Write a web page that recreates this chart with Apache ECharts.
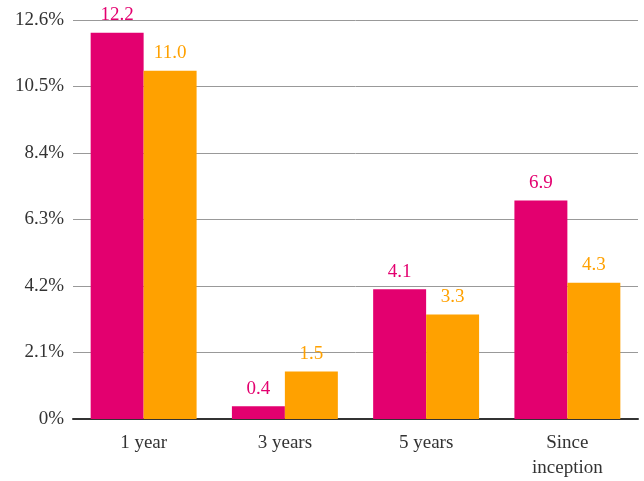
<!DOCTYPE html>
<html><head><meta charset="utf-8">
<script src="https://cdn.jsdelivr.net/npm/echarts@6/dist/echarts.min.js"></script>
<style>html,body{margin:0;padding:0;background:#fff}#c{width:644px;height:481px}</style>
</head><body><div id="c"></div>
<script>
const categories = ['1 year', '3 years', '5 years', 'Since\ninception'];
const seriesA = [12.2, 0.4, 4.1, 6.9];
const seriesB = [11.0, 1.5, 3.3, 4.3];
const yTicks = [0, 2.1, 4.2, 6.3, 8.4, 10.5, 12.6];
const colorA = '#E3006F';
const colorB = '#FFA100';
const font = 'Liberation Serif';
const chart = echarts.init(document.getElementById('c'));
chart.setOption({
  animation: false,
  grid: {left: 73, right: 6, top: 20, bottom: 61, containLabel: false},
  xAxis: {
    type: 'category', data: categories,
    axisLine: {lineStyle: {color: '#333', width: 2}},
    axisTick: {show: false},
    axisLabel: {color: '#333', fontFamily: font, fontSize: 19, margin: 12, lineHeight: 25}
  },
  yAxis: {
    type: 'value', min: 0, max: yTicks[yTicks.length - 1], interval: 2.1,
    axisLine: {show: false}, axisTick: {show: false},
    splitLine: {lineStyle: {color: '#999', width: 1}},
    axisLabel: {color: '#333', fontFamily: font, fontSize: 19, margin: 9,
      formatter: v => (v === 0 ? '0' : v.toFixed(1)) + '%'}
  },
  series: [
    {type: 'bar', data: seriesA, barGap: '0%', barCategoryGap: '25%',
     itemStyle: {color: colorA},
     label: {show: true, position: 'top', distance: 8, color: colorA, fontFamily: font, fontSize: 19,
       formatter: p => p.value.toFixed(1)}},
    {type: 'bar', data: seriesB, itemStyle: {color: colorB},
     label: {show: true, position: 'top', distance: 8, color: colorB, fontFamily: font, fontSize: 19,
       formatter: p => p.value.toFixed(1)}}
  ]
});
</script></body></html>
